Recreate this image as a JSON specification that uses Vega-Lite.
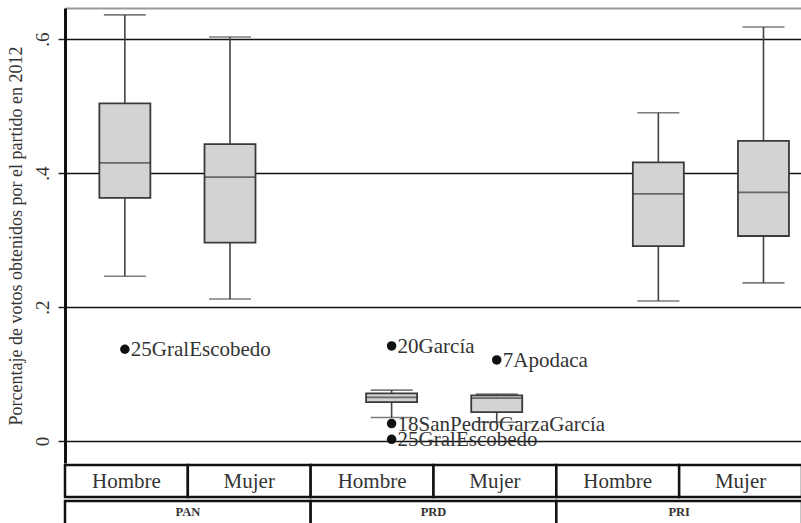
{
  "$schema": "https://vega.github.io/schema/vega-lite/v6.json",
  "background": "white",
  "padding": {"left": 7, "top": 8, "right": 0, "bottom": 0},
  "spacing": 0,
  "resolve": {"scale": {"xOffset": "independent"}},
  "config": {
    "view": {"stroke": null},
    "font": "'Liberation Serif', 'DejaVu Serif', serif",
    "text": {"font": "'Liberation Serif', 'DejaVu Serif', serif"},
    "axis": {"labelFont": "'Liberation Serif', 'DejaVu Serif', serif", "titleFont": "'Liberation Serif', 'DejaVu Serif', serif"},
    "concat": {"spacing": 0}
  },
  "datasets": {
    "boxes": [
      {"partido": "PAN", "sexo": "Hombre", "min": 0.246, "q1": 0.363, "median": 0.415, "q3": 0.504, "max": 0.636},
      {"partido": "PAN", "sexo": "Mujer", "min": 0.212, "q1": 0.296, "median": 0.394, "q3": 0.443, "max": 0.603},
      {"partido": "PRD", "sexo": "Hombre", "min": 0.035, "q1": 0.058, "median": 0.065, "q3": 0.071, "max": 0.076},
      {"partido": "PRD", "sexo": "Mujer", "min": 0.028, "q1": 0.043, "median": 0.064, "q3": 0.068, "max": 0.070},
      {"partido": "PRI", "sexo": "Hombre", "min": 0.209, "q1": 0.291, "median": 0.369, "q3": 0.416, "max": 0.490},
      {"partido": "PRI", "sexo": "Mujer", "min": 0.236, "q1": 0.306, "median": 0.371, "q3": 0.448, "max": 0.618}
    ],
    "outliers": [
      {"partido": "PAN", "sexo": "Hombre", "valor": 0.137, "municipio": "25GralEscobedo"},
      {"partido": "PRD", "sexo": "Hombre", "valor": 0.142, "municipio": "20García"},
      {"partido": "PRD", "sexo": "Hombre", "valor": 0.026, "municipio": "18SanPedroGarzaGarcía"},
      {"partido": "PRD", "sexo": "Hombre", "valor": 0.0025, "municipio": "25GralEscobedo"},
      {"partido": "PRD", "sexo": "Mujer", "valor": 0.121, "municipio": "7Apodaca"}
    ],
    "celdas": [
      {"partido": "PAN", "sexo": "Hombre"},
      {"partido": "PAN", "sexo": "Mujer"},
      {"partido": "PRD", "sexo": "Hombre"},
      {"partido": "PRD", "sexo": "Mujer"},
      {"partido": "PRI", "sexo": "Hombre"},
      {"partido": "PRI", "sexo": "Mujer"}
    ],
    "partidos": [
      {"partido": "PAN"},
      {"partido": "PRD"},
      {"partido": "PRI"}
    ]
  },
  "vconcat": [
    {
      "width": 737,
      "height": 455,
      "encoding": {
        "x": {
          "field": "partido", "type": "nominal",
          "scale": {"paddingInner": 0.317, "paddingOuter": 0.04, "align": 1},
          "axis": {"orient": "top", "labels": false, "ticks": false, "title": null, "domainColor": "#9a9a9a", "domainWidth": 2, "grid": false}
        },
        "xOffset": {
          "field": "sexo", "type": "nominal",
          "scale": {"paddingInner": 0.267, "paddingOuter": 0}
        }
      },
      "layer": [
        {
          "data": {"name": "boxes"},
          "mark": {"type": "rule", "color": "#444", "strokeWidth": 1.6},
          "encoding": {
            "y": {
              "field": "min", "type": "quantitative",
              "scale": {"domain": [-0.0328, 0.6463], "nice": false, "zero": false},
              "axis": {
                "values": [0, 0.2, 0.4, 0.6],
                "labelExpr": "datum.value == 0 ? '0' : replace(format(datum.value, '.1f'), '0.', '.')",
                "labelAngle": -90, "labelAlign": "center", "labelBaseline": "bottom",
                "labelFontSize": 19, "labelColor": "#333", "labelPadding": 6,
                "tickSize": 7, "tickColor": "#222", "tickWidth": 1.5,
                "domainColor": "#111", "domainWidth": 3,
                "grid": true, "gridColor": "#111", "gridWidth": 1.5, "gridOpacity": 1,
                "title": "Porcentaje de votos obtenidos por el partido en 2012",
                "titleFontSize": 18, "titleFontWeight": "normal", "titleColor": "#333", "titlePadding": 8
              }
            },
            "y2": {"field": "q1"}
          }
        },
        {
          "data": {"name": "boxes"},
          "mark": {"type": "rule", "color": "#444", "strokeWidth": 1.6},
          "encoding": {
            "y": {"field": "q3", "type": "quantitative"},
            "y2": {"field": "max"}
          }
        },
        {
          "data": {"name": "boxes"},
          "mark": {"type": "tick", "color": "#444", "size": 42, "thickness": 1.6},
          "encoding": {"y": {"field": "max", "type": "quantitative"}}
        },
        {
          "data": {"name": "boxes"},
          "mark": {"type": "tick", "color": "#444", "size": 42, "thickness": 1.6},
          "encoding": {"y": {"field": "min", "type": "quantitative"}}
        },
        {
          "data": {"name": "boxes"},
          "mark": {"type": "bar", "width": 51, "fill": "#d3d3d5", "stroke": "#3a3a3a", "strokeWidth": 1.8},
          "encoding": {
            "y": {"field": "q1", "type": "quantitative"},
            "y2": {"field": "q3"}
          }
        },
        {
          "data": {"name": "boxes"},
          "mark": {"type": "tick", "color": "#3a3a3a", "size": 51, "thickness": 1.8},
          "encoding": {"y": {"field": "median", "type": "quantitative"}}
        },
        {
          "data": {"name": "outliers"},
          "mark": {"type": "point", "filled": true, "color": "#111", "size": 90, "opacity": 1},
          "encoding": {"y": {"field": "valor", "type": "quantitative"}}
        },
        {
          "data": {"name": "outliers"},
          "mark": {"type": "text", "align": "left", "baseline": "middle", "dx": 6, "dy": 1, "fontSize": 21, "color": "#333"},
          "encoding": {
            "y": {"field": "valor", "type": "quantitative"},
            "text": {"field": "municipio"}
          }
        }
      ]
    },
    {
      "width": 737,
      "height": 32,
      "data": {"name": "celdas"},
      "encoding": {
        "x": {"field": "partido", "type": "nominal", "scale": {"paddingInner": 0, "paddingOuter": 0}, "axis": null},
        "xOffset": {"field": "sexo", "type": "nominal", "scale": {"paddingInner": 0, "paddingOuter": 0}}
      },
      "layer": [
        {"mark": {"type": "rect", "fill": "white", "stroke": "#111", "strokeWidth": 2.5}},
        {
          "mark": {"type": "text", "fontSize": 21, "color": "#333", "baseline": "middle", "dy": 1},
          "encoding": {"text": {"field": "sexo"}}
        }
      ]
    },
    {
      "width": 737,
      "height": 28,
      "data": {"name": "partidos"},
      "encoding": {
        "x": {"field": "partido", "type": "nominal", "scale": {"paddingInner": 0, "paddingOuter": 0}, "axis": null}
      },
      "layer": [
        {"mark": {"type": "rect", "fill": "white", "stroke": "#111", "strokeWidth": 2.5, "y2Offset": 6}},
        {
          "mark": {"type": "text", "fontSize": 12.5, "fontWeight": "bold", "color": "#333", "baseline": "middle", "dy": -3},
          "encoding": {"text": {"field": "partido"}}
        }
      ]
    }
  ]
}
